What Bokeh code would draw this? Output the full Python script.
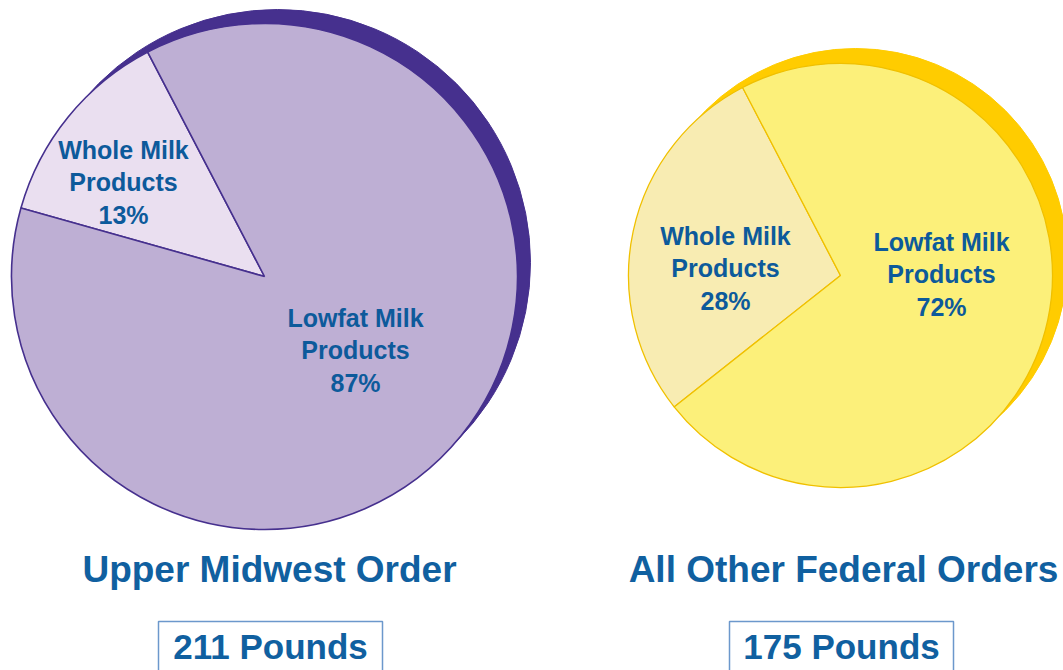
import numpy as np
from bokeh.plotting import figure
from bokeh.models import Range1d, ColumnDataSource
from bokeh.core.properties import value
from bokeh.embed import file_html
from bokeh.resources import INLINE

W, H = 1063, 670

# ---- data ----
orders = ["Upper Midwest Order", "All Other Federal Orders"]
pounds = [211, 175]
categories = ["Whole Milk\nProducts", "Lowfat Milk\nProducts"]
upper_midwest_pct = [13, 87]
all_other_pct = [28, 72]

TEXT = "#0D5A9B"
FONT = value("Liberation Sans")

p = figure(width=W, height=H, x_range=Range1d(0, W), y_range=Range1d(0, H),
           output_backend="svg", toolbar_location=None,
           x_axis_location=None, y_axis_location=None, min_border=0,
           outline_line_color=None, background_fill_color="white",
           border_fill_color="white")
p.grid.visible = False

pies = [
    dict(values=upper_midwest_pct, cx=264, cy=H - 276, r=253, off=(13, 14),
         fills=["#EADFF0", "#BEAFD4"], line="#46308E", shadow="#46308E", lw=1.6,
         labels=[(123, H - 182), (355, H - 350)],
         tx=269, bx=270, bw=224),
    dict(values=all_other_pct, cx=840, cy=H - 275, r=212, off=(15, 15),
         fills=["#F8ECB2", "#FCF07A"], line="#F0C000", shadow="#FFCC00", lw=1.3,
         labels=[(725, H - 268), (941, H - 274)],
         tx=843, bx=841, bw=224),
]

START = np.deg2rad(117.5)

for i, cfg in enumerate(pies):
    vals = np.array(cfg["values"], dtype=float)
    frac = vals / vals.sum()
    ends = START + np.cumsum(frac) * 2 * np.pi
    starts = np.concatenate([[START], ends[:-1]])
    # shadow
    p.circle(x=[cfg["cx"] + cfg["off"][0]], y=[cfg["cy"] + cfg["off"][1]],
             radius=cfg["r"], fill_color=cfg["shadow"], line_color=cfg["shadow"])
    src = ColumnDataSource(dict(x=[cfg["cx"]] * len(vals), y=[cfg["cy"]] * len(vals),
                                s=starts, e=ends, c=cfg["fills"]))
    p.wedge(x="x", y="y", radius=cfg["r"], start_angle="s", end_angle="e",
            fill_color="c", line_color=cfg["line"], line_width=cfg["lw"], source=src)
    lx = [pt[0] for pt in cfg["labels"]]
    ly = [pt[1] for pt in cfg["labels"]]
    lt = [f"{c}\n{v}%" for c, v in zip(categories, cfg["values"])]
    p.text(x=lx, y=ly, text=lt, text_align="center", text_baseline="middle",
           text_font=FONT, text_font_style="bold", text_font_size="25px",
           text_color=TEXT, text_line_height=1.15)
    # title
    p.text(x=[cfg["tx"]], y=[H - 569], text=[orders[i]], text_align="center",
           text_baseline="alphabetic", text_font=FONT, text_font_style="bold",
           text_font_size="37px", text_color="#1060A0")
    # pounds box
    p.quad(left=[cfg["bx"] - cfg["bw"] / 2], right=[cfg["bx"] + cfg["bw"] / 2],
           top=[H - 621], bottom=[-20], fill_color=None,
           line_color="#6C98CC", line_width=1.5)
    p.text(x=[cfg["bx"]], y=[H - 646], text=[f"{pounds[i]} Pounds"], text_align="center",
           text_baseline="alphabetic", text_font=FONT, text_font_style="bold",
           text_font_size="35px", text_color="#1060A0")

open("out.html", "w").write(file_html(p, INLINE))
